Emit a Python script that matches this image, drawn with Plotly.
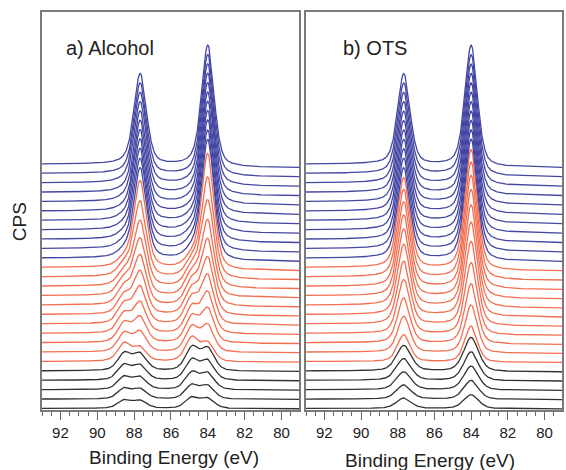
import numpy as np
import plotly.graph_objects as go

# ---------------- data ----------------
energy = np.round(np.arange(79.0, 93.0001, 0.02), 3)   # binding energy grid (eV)

AU4F72_EV = 84.0          # Au 4f7/2 metallic
SO_SPLIT_EV = 3.67        # 4f5/2 - 4f7/2
SHIFT_EV = 0.85           # shifted (non-metallic) component, alcohol
RATIO_5_2 = 0.75          # 4f5/2 / 4f7/2 intensity

# Alcohol: 4f7/2 heights, spectra from bottom to top
alc_black_metal   = [10, 13, 16, 19, 22]
alc_black_shift   = [11, 14, 17, 20, 23]
alc_orange_metal  = [18, 26, 33, 40, 48, 56, 65, 75, 86, 100, 115]
alc_orange_shift  = [24, 25, 26, 26, 26, 25, 24, 22, 19, 15, 10]
alc_blue_metal    = [120, 120, 121, 121, 121, 121, 121, 121, 121, 121, 121]
alc_blue_shift    = [8, 7, 6, 5, 4, 3, 3, 2, 2, 1, 1]

# OTS: 4f7/2 heights, spectra from bottom to top
ots_black_metal   = [14, 19, 24, 29, 34]
ots_orange_metal  = [36, 48, 60, 72, 84, 94, 102, 108, 113, 117, 120]
ots_blue_metal    = [121, 121, 121, 121, 121, 121, 121, 121, 121, 121, 121]

FWHM_METAL = 0.8
FWHM_SHIFT = 0.85
FWHM_OTS_BLACK = 0.95
ETA = 0.42                # Lorentzian fraction
BG_STEP = 0.03            # Shirley-like step relative to 4f7/2 height
SPACING = 9.4             # waterfall offset
BASE0 = 1.5

x_ticks = [92, 90, 88, 86, 84, 82, 80]

COL_BLACK = "rgb(50,50,50)"
COL_ORANGE = "rgb(244,110,80)"
COL_BLUE = "rgb(68,70,162)"


def pv(x, c, w):
    g = np.exp(-4 * np.log(2) * ((x - c) / w) ** 2)
    l = 1.0 / (1.0 + (2 * (x - c) / w) ** 2)
    return ETA * l + (1 - ETA) * g


def spectrum(hm, hs, wm, ws):
    y = np.zeros_like(energy, dtype=float)
    for pos, h, w in [(AU4F72_EV, hm, wm), (AU4F72_EV + SHIFT_EV, hs, ws)]:
        if h <= 0:
            continue
        y += h * pv(energy, pos, w)
        y += h * RATIO_5_2 * pv(energy, pos + SO_SPLIT_EV, w)
    cum = np.concatenate([[0], np.cumsum((y[1:] + y[:-1]) / 2)])
    cum = cum / cum[-1] if cum[-1] > 0 else cum
    step = BG_STEP * max(hm, hs)
    return y + step * (cum - 1.0)


fig = go.Figure()


def add_panel(groups, xa, ya):
    idx = 0
    for metals, shifts, color, wm in groups:
        for hm, hs in zip(metals, shifts):
            yv = spectrum(hm, hs, wm, FWHM_SHIFT) + BASE0 + idx * SPACING
            fig.add_trace(go.Scatter(x=energy, y=yv, mode="lines",
                                     line=dict(color=color, width=1.3),
                                     xaxis=xa, yaxis=ya, showlegend=False,
                                     hoverinfo="skip"))
            idx += 1


add_panel([
    (alc_black_metal, alc_black_shift, COL_BLACK, FWHM_SHIFT),
    (alc_orange_metal, alc_orange_shift, COL_ORANGE, FWHM_METAL),
    (alc_blue_metal, alc_blue_shift, COL_BLUE, FWHM_METAL),
], "x", "y")

add_panel([
    (ots_black_metal, [0] * len(ots_black_metal), COL_BLACK, FWHM_OTS_BLACK),
    (ots_orange_metal, [0] * len(ots_orange_metal), COL_ORANGE, FWHM_METAL),
    (ots_blue_metal, [0] * len(ots_blue_metal), COL_BLUE, FWHM_METAL),
], "x2", "y2")

FONT = "Arial, Liberation Sans, Helvetica, sans-serif"
axis_common = dict(range=[93.0, 79.05], tickvals=x_ticks,
                   ticktext=[str(v) for v in x_ticks],
                   ticks="outside", ticklen=8, tickwidth=1.2, tickcolor="#666",
                   minor=dict(dtick=0.5, tick0=80, ticks="outside", ticklen=4,
                              tickwidth=1.2, tickcolor="#666"),
                   showline=True, linecolor="#7a7a7a", linewidth=2, mirror=True,
                   showgrid=False, zeroline=False,
                   tickfont=dict(family=FONT, size=15, color="#222"))
yaxis_common = dict(range=[0, 398], showticklabels=False, ticks="",
                    showline=True, linecolor="#7a7a7a", linewidth=2, mirror=True,
                    showgrid=False, zeroline=False)

fig.update_layout(
    width=566, height=470,
    margin=dict(l=42, r=2, t=12, b=60),
    paper_bgcolor="white", plot_bgcolor="white",
    xaxis=dict(domain=[0, 0.4943], anchor="y", **axis_common),
    xaxis2=dict(domain=[0.5077, 1.0], anchor="y2", **axis_common),
    yaxis=dict(anchor="x", **yaxis_common),
    yaxis2=dict(anchor="x2", **yaxis_common),
    annotations=[
        dict(text="a) Alcohol", x=0.042, y=0.9095, xref="paper", yref="paper",
             xanchor="left", yanchor="middle", showarrow=False,
             font=dict(family=FONT, size=20, color="#222")),
        dict(text="b) OTS", x=0.5747, y=0.9095, xref="paper", yref="paper",
             xanchor="left", yanchor="middle", showarrow=False,
             font=dict(family=FONT, size=20, color="#222")),
        dict(text="CPS", x=-0.042, y=0.4724, xref="paper", yref="paper",
             xanchor="center", yanchor="middle", textangle=-90, showarrow=False,
             font=dict(family=FONT, size=19, color="#222")),
        dict(text="Binding Energy (eV)", x=0.2548, y=-0.1206, xref="paper",
             yref="paper", xanchor="center", yanchor="middle", showarrow=False,
             font=dict(family=FONT, size=19, color="#222")),
        dict(text="Binding Energy (eV)", x=0.7452, y=-0.127, xref="paper",
             yref="paper", xanchor="center", yanchor="middle", showarrow=False,
             font=dict(family=FONT, size=19, color="#222")),
    ],
)

fig.write_html("out.html")
